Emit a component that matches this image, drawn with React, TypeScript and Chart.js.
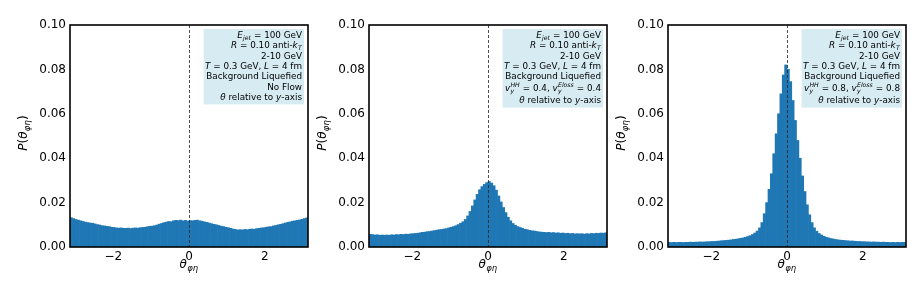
import React, { useEffect, useRef } from "react";
import { Chart, registerables } from "chart.js";

Chart.register(...registerables);

// ---------------- data ----------------
const THETA_MIN = -Math.PI;
const THETA_MAX = Math.PI;
const N_BINS = 100;

const X_TICKS = [-2, 0, 2];
const Y_TICKS = [0, 0.02, 0.04, 0.06, 0.08, 0.1];

// Panel 1: no flow
const noFlowValues = [
  0.0132, 0.0128, 0.0124, 0.0121, 0.0118, 0.0115, 0.0112, 0.011, 0.0108, 0.0107,
  0.0104, 0.0101, 0.0099, 0.0096, 0.0095, 0.0093, 0.0092, 0.0089, 0.0088, 0.0086,
  0.0085, 0.0086, 0.0084, 0.0084, 0.0085, 0.0083, 0.0085, 0.0086, 0.0085, 0.0087,
  0.0088, 0.0089, 0.0091, 0.0093, 0.0094, 0.0096, 0.0099, 0.0103, 0.0106, 0.011,
  0.0112, 0.0115, 0.0114, 0.0118, 0.012, 0.0119, 0.0121, 0.0118, 0.012, 0.0117,
  0.0119, 0.0118, 0.012, 0.0121, 0.0118, 0.0116, 0.0113, 0.0111, 0.0108, 0.0105,
  0.0102, 0.01, 0.0097, 0.0094, 0.0092, 0.0089, 0.0087, 0.0084, 0.0081, 0.0079,
  0.0077, 0.0078, 0.0077, 0.0079, 0.0078, 0.008, 0.0081, 0.008, 0.0083, 0.0084,
  0.0086, 0.0087, 0.0089, 0.0091, 0.0092, 0.0095, 0.0097, 0.01, 0.0102, 0.0105,
  0.0108, 0.0111, 0.0113, 0.0116, 0.0118, 0.012, 0.0122, 0.0125, 0.0128, 0.0131,
];

// Panel 2: v = 0.4
const flow04Values = [
  0.0057, 0.0056, 0.0054, 0.0055, 0.0053, 0.0054, 0.0053, 0.0054, 0.0053, 0.0055,
  0.0054, 0.0056, 0.0055, 0.0057, 0.0056, 0.0058, 0.0057, 0.0059, 0.006, 0.0061,
  0.0062, 0.0064, 0.0066, 0.0067, 0.0069, 0.007, 0.0072, 0.0074, 0.0076, 0.0078,
  0.0079, 0.0081, 0.0083, 0.0086, 0.0089, 0.0092, 0.0096, 0.0101, 0.0107, 0.0114,
  0.0124, 0.014, 0.016, 0.0185, 0.0212, 0.0237, 0.0258, 0.0272, 0.0282, 0.029,
  0.0295, 0.0288, 0.0276, 0.0256, 0.023, 0.0203, 0.0178, 0.0155, 0.0134, 0.0118,
  0.0106, 0.0098, 0.0092, 0.0088, 0.0084, 0.008, 0.0078, 0.0075, 0.0073, 0.0072,
  0.007, 0.0068, 0.0067, 0.0066, 0.0065, 0.0066, 0.0064, 0.0065, 0.0063, 0.0064,
  0.0062, 0.0063, 0.0061, 0.0062, 0.006, 0.0061, 0.0059, 0.006, 0.0059, 0.006,
  0.0058, 0.006, 0.0059, 0.0061, 0.006, 0.0062, 0.0061, 0.0063, 0.0062, 0.0064,
];

// Panel 3: v = 0.8
const flow08Values = [
  0.0021, 0.002, 0.0021, 0.002, 0.0021, 0.0021, 0.002, 0.0021, 0.0021, 0.0022,
  0.0021, 0.0022, 0.0022, 0.0023, 0.0022, 0.0023, 0.0024, 0.0024, 0.0025, 0.0025,
  0.0026, 0.0027, 0.0028, 0.0029, 0.003, 0.0031, 0.0032, 0.0034, 0.0035, 0.0037,
  0.0039, 0.0041, 0.0044, 0.0047, 0.0051, 0.0056, 0.0063, 0.0072, 0.0086, 0.011,
  0.015, 0.02, 0.026, 0.033, 0.042, 0.051, 0.06, 0.069, 0.0775, 0.082,
  0.08, 0.0745, 0.066, 0.057, 0.048, 0.04, 0.032, 0.025, 0.019, 0.0145,
  0.011, 0.0086, 0.0071, 0.0061, 0.0054, 0.0048, 0.0044, 0.0041, 0.0038, 0.0036,
  0.0034, 0.0032, 0.0031, 0.003, 0.0029, 0.0028, 0.0027, 0.0027, 0.0026, 0.0025,
  0.0025, 0.0024, 0.0024, 0.0023, 0.0023, 0.0022, 0.0023, 0.0022, 0.0022, 0.0021,
  0.0022, 0.0021, 0.0021, 0.002, 0.0021, 0.002, 0.0021, 0.002, 0.0021, 0.0021,
];

// ---------------- text ----------------
type Seg = { t?: string; i?: boolean; sub?: string; sup?: string };
type Line = { segs: Seg[]; tall?: boolean };

const commonTop: Line[] = [
  { segs: [{ t: "E", i: true }, { sub: "jet" }, { t: " = 100 GeV" }] },
  { segs: [{ t: "R", i: true }, { t: " = 0.10 anti-" }, { t: "k", i: true }, { sub: "T" }] },
  { segs: [{ t: "2-10 GeV" }] },
  { segs: [{ t: "T", i: true }, { t: " = 0.3 GeV, " }, { t: "L", i: true }, { t: " = 4 fm" }] },
  { segs: [{ t: "Background Liquefied" }] },
];
const axisLine: Line = {
  segs: [{ t: "θ", i: true }, { t: " relative to " }, { t: "y", i: true }, { t: "-axis" }],
};
const panel1Text: Line[] = [...commonTop, { segs: [{ t: "No Flow" }] }, axisLine];
const panel2Text: Line[] = [
  ...commonTop,
  {
    tall: true,
    segs: [
      { t: "v", i: true }, { sub: "y", sup: "HH" }, { t: " = 0.4, " },
      { t: "v", i: true }, { sub: "y", sup: "Eloss" }, { t: " = 0.4" },
    ],
  },
  axisLine,
];
const panel3Text: Line[] = [
  ...commonTop,
  {
    tall: true,
    segs: [
      { t: "v", i: true }, { sub: "y", sup: "HH" }, { t: " = 0.8, " },
      { t: "v", i: true }, { sub: "y", sup: "Eloss" }, { t: " = 0.8" },
    ],
  },
  axisLine,
];

const yLabel: Seg[] = [{ t: "P", i: true }, { t: "(" }, { t: "θ", i: true }, { sub: "φη" }, { t: ")" }];
const xLabel: Seg[] = [{ t: "θ", i: true }, { sub: "φη" }];

const PANELS = [
  { values: noFlowValues, text: panel1Text, plotLeft: 70 },
  { values: flow04Values, text: panel2Text, plotLeft: 369 },
  { values: flow08Values, text: panel3Text, plotLeft: 668 },
];

// ---------------- layout ----------------
const PLOT_W = 238;
const PLOT_TOP = 25;
const PLOT_BOTTOM = 247;
const CANVAS_H = 292;
const Y_AXIS_W = 70;
const RIGHT_PAD = 6;
const CANVAS_W = Y_AXIS_W + PLOT_W + RIGHT_PAD;

const FONT = '"DejaVu Sans", sans-serif';
const BAR_COLOR = "#1f77b4";
const BOX_COLOR = "#d6ebf2";

function fontStr(size: number, italic: boolean) {
  return `${italic ? "italic " : ""}${size}px ${FONT}`;
}

function segWidth(ctx: CanvasRenderingContext2D, s: Seg, size: number) {
  if (s.sub !== undefined || s.sup !== undefined) {
    ctx.font = fontStr(size * 0.7, true);
    const w1 = s.sub ? ctx.measureText(s.sub).width : 0;
    const w2 = s.sup ? ctx.measureText(s.sup).width : 0;
    return Math.max(w1, w2) + size * 0.06;
  }
  ctx.font = fontStr(size, !!s.i);
  return ctx.measureText(s.t || "").width;
}

function richWidth(ctx: CanvasRenderingContext2D, segs: Seg[], size: number) {
  return segs.reduce((acc, s) => acc + segWidth(ctx, s, size), 0);
}

function drawRich(
  ctx: CanvasRenderingContext2D,
  segs: Seg[],
  x: number,
  y: number,
  size: number,
  align: "left" | "right" | "center"
) {
  const total = richWidth(ctx, segs, size);
  let cx = align === "left" ? x : align === "right" ? x - total : x - total / 2;
  ctx.textAlign = "left";
  ctx.textBaseline = "middle";
  ctx.fillStyle = "#000";
  for (const s of segs) {
    const w = segWidth(ctx, s, size);
    if (s.sub !== undefined || s.sup !== undefined) {
      ctx.font = fontStr(size * 0.7, true);
      if (s.sub) ctx.fillText(s.sub, cx + size * 0.03, y + size * 0.3);
      if (s.sup) ctx.fillText(s.sup, cx + size * 0.03, y - size * 0.42);
    } else {
      ctx.font = fontStr(size, !!s.i);
      ctx.fillText(s.t || "", cx, y);
    }
    cx += w;
  }
}

function makePlugin(text: Line[]) {
  return {
    id: "panelDecor",
    afterDatasetsDraw(chart: any) {
      const { ctx, chartArea: a, scales } = chart;
      const x0 = scales.x.getPixelForValue(0);
      ctx.save();
      ctx.strokeStyle = "#222";
      ctx.lineWidth = 0.8;
      ctx.setLineDash([3, 2]);
      ctx.beginPath();
      ctx.moveTo(Math.round(x0) + 0.5, a.top);
      ctx.lineTo(Math.round(x0) + 0.5, a.bottom);
      ctx.stroke();
      ctx.restore();
    },
    afterDraw(chart: any) {
      const { ctx, chartArea: a } = chart;
      ctx.save();
      // text box
      const size = 8.8;
      const lineH = 10.4;
      const extra = 1.6;
      const boxTop = a.top + 4;
      const textRight = a.right - 6;
      const centers: number[] = [];
      let y = boxTop + 6.5;
      text.forEach((ln, k) => {
        if (k > 0) y += lineH;
        if (ln.tall) y += extra;
        centers.push(y);
        if (ln.tall) y += extra;
      });
      const boxBottom = y + 6.5;
      const maxW = Math.max(...text.map((ln) => richWidth(ctx, ln.segs, size)));
      const boxLeft = textRight - maxW - 1.5;
      const boxRight = a.right - 4;
      ctx.fillStyle = BOX_COLOR;
      ctx.fillRect(boxLeft, boxTop, boxRight - boxLeft, boxBottom - boxTop);
      text.forEach((ln, k) => drawRich(ctx, ln.segs, textRight, centers[k], size, "right"));

      // spines
      ctx.strokeStyle = "#000";
      ctx.lineWidth = 1.6;
      ctx.setLineDash([]);
      ctx.strokeRect(a.left, a.top, a.right - a.left, a.bottom - a.top);

      // axis labels
      drawRich(ctx, xLabel, (a.left + a.right) / 2, a.bottom + 18, 12, "center");
      ctx.translate(a.left - 46, (a.top + a.bottom) / 2 - 3);
      ctx.rotate(-Math.PI / 2);
      drawRich(ctx, yLabel, 0, 0, 12, "center");
      ctx.restore();
    },
  };
}

function Panel({ values, text, plotLeft }: { values: number[]; text: Line[]; plotLeft: number }) {
  const ref = useRef<HTMLCanvasElement | null>(null);
  useEffect(() => {
    if (!ref.current) return;
    const binW = (THETA_MAX - THETA_MIN) / N_BINS;
    const data = values.map((v, i) => ({ x: THETA_MIN + (i + 0.5) * binW, y: v }));
    const chart = new Chart(ref.current, {
      type: "bar",
      data: {
        datasets: [
          {
            data: data as any,
            backgroundColor: BAR_COLOR,
            borderWidth: 0,
            barPercentage: 1,
            categoryPercentage: 1,
            grouped: false,
          } as any,
        ],
      },
      options: {
        responsive: false,
        animation: false,
        devicePixelRatio: 1,
        layout: { padding: { left: 0, right: RIGHT_PAD, top: PLOT_TOP, bottom: 0 } },
        plugins: { legend: { display: false }, tooltip: { enabled: false }, title: { display: false } },
        scales: {
          x: {
            type: "linear",
            min: THETA_MIN,
            max: THETA_MAX,
            offset: false,
            grid: { display: false, drawTicks: false },
            border: { display: false },
            afterBuildTicks: (s: any) => {
              s.ticks = X_TICKS.map((v) => ({ value: v }));
            },
            afterFit: (s: any) => {
              s.height = CANVAS_H - PLOT_BOTTOM;
            },
            ticks: {
              color: "#000",
              font: { family: FONT, size: 12 },
              padding: 3,
              maxRotation: 0,
              autoSkip: false,
              callback: (v: any) => (Number(v) < 0 ? "\u2212" + Math.abs(Number(v)) : String(v)),
            },
          },
          y: {
            type: "linear",
            min: 0,
            max: 0.1,
            grid: { display: false, drawTicks: false },
            border: { display: false },
            afterBuildTicks: (s: any) => {
              s.ticks = Y_TICKS.map((v) => ({ value: v }));
            },
            afterFit: (s: any) => {
              s.width = Y_AXIS_W;
            },
            ticks: {
              color: "#000",
              font: { family: FONT, size: 12 },
              padding: 4,
              autoSkip: false,
              callback: (v: any) => Number(v).toFixed(2),
            },
          },
        },
      } as any,
      plugins: [makePlugin(text) as any],
    });
    return () => chart.destroy();
  }, [values, text]);
  return (
    <canvas
      ref={ref}
      width={CANVAS_W}
      height={CANVAS_H}
      style={{ position: "absolute", left: plotLeft - Y_AXIS_W, top: 0, width: CANVAS_W, height: CANVAS_H }}
    />
  );
}

export default function App() {
  return (
    <div
      style={{
        position: "fixed",
        left: 0,
        top: 0,
        width: 921,
        height: 292,
        background: "#fff",
        overflow: "hidden",
      }}
    >
      {PANELS.map((p, i) => (
        <Panel key={i} values={p.values} text={p.text} plotLeft={p.plotLeft} />
      ))}
    </div>
  );
}
